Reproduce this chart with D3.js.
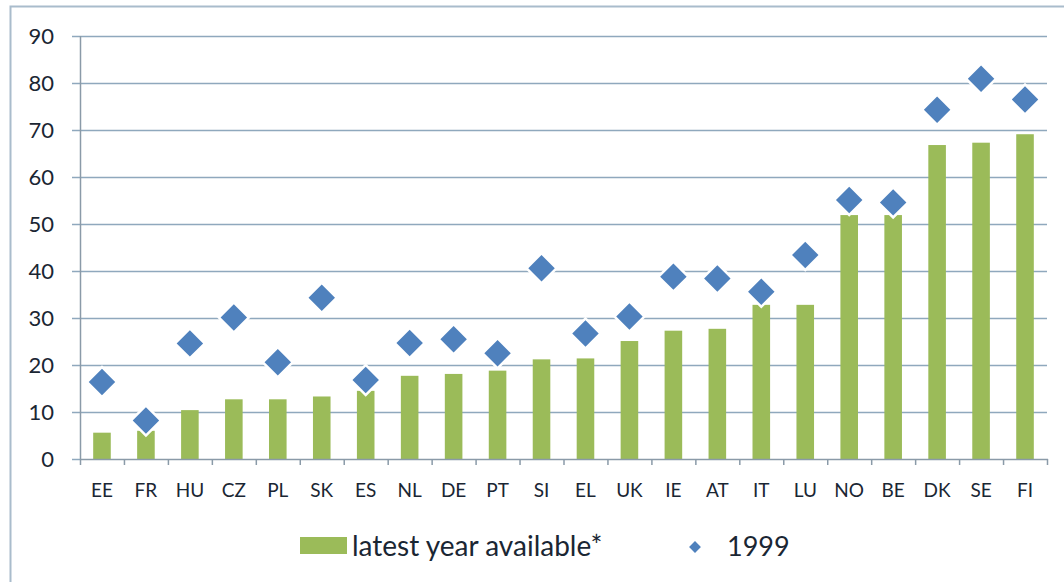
<!DOCTYPE html>
<html>
<head>
<meta charset="utf-8">
<script src="https://cdn.jsdelivr.net/npm/d3@7"></script>
<style>
  body { margin: 0; background: #fff; }
  text { font-family: Lato, "Open Sans", sans-serif; fill: #1a2633; }
</style>
</head>
<body>
<div id="chart"></div>
<script>
// chart data
var countries = ["EE", "FR", "HU", "CZ", "PL", "SK", "ES", "NL", "DE", "PT", "SI",
    "EL", "UK", "IE", "AT", "IT", "LU", "NO", "BE", "DK", "SE", "FI"];
var latestValues = [5.6, 6, 10.4, 12.7, 12.7, 13.3, 14.5, 17.7, 18.1, 18.8, 21.2,
    21.4, 25.1, 27.3, 27.7, 32.8, 32.8, 51.9, 51.9, 66.8, 67.3, 69.1];
var values1999 = [16.4, 8.2, 24.6, 30.1, 20.6, 34.3, 16.8, 24.7, 25.5, 22.5, 40.6,
    26.7, 30.3, 38.8, 38.4, 35.6, 43.4, 55.1, 54.6, 74.3, 80.9, 76.5];
var yTicks = [0, 10, 20, 30, 40, 50, 60, 70, 80, 90];
var legendLabels = ["latest year available*", "1999"];

function makeChart(divID) {
    var width = 1064, height = 582;
    var barColor = "#9bbb59", diamondColor = "#4f81bd";

    var svg = d3.select("#" + divID).append("svg")
        .attr("width", width)
        .attr("height", height);

    // outer frame (only left and top edges are in view)
    svg.append("path")
        .attr("d", "M10.5," + height + "V6.5H" + width)
        .attr("fill", "none")
        .attr("stroke", "#a9bccc")
        .attr("stroke-width", 2);

    var xScale = d3.scaleBand()
        .domain(countries)
        .range([80, 1047])
        .paddingInner(0.6)
        .paddingOuter(0.3);
    var bandStep = xScale.step();

    var yScale = d3.scaleLinear()
        .domain([0, 90])
        .range([459, 36]);

    // gridlines
    svg.append("g")
        .selectAll("line")
        .data(yTicks.filter(function (d) { return d > 0; }))
        .enter()
        .append("line")
        .attr("x1", 72)
        .attr("x2", 1047)
        .attr("y1", function (d) { return Math.round(yScale(d)) + 0.5; })
        .attr("y2", function (d) { return Math.round(yScale(d)) + 0.5; })
        .attr("stroke", "#8fa8bd")
        .attr("stroke-width", 1.5);

    // y labels
    svg.append("g")
        .selectAll("text")
        .data(yTicks)
        .enter()
        .append("text")
        .attr("x", 54)
        .attr("y", function (d) { return yScale(d); })
        .attr("dy", "0.36em")
        .attr("text-anchor", "end")
        .style("font-size", "22px")
        .text(function (d) { return d; });

    // bars
    svg.append("g")
        .selectAll("rect")
        .data(latestValues)
        .enter()
        .append("rect")
        .attr("x", function (d, i) { return xScale(countries[i]); })
        .attr("width", xScale.bandwidth())
        .attr("y", function (d) { return yScale(d); })
        .attr("height", function (d) { return yScale(0) - yScale(d); })
        .attr("fill", barColor);

    // axes lines
    svg.append("line")
        .attr("x1", 80.5).attr("x2", 80.5)
        .attr("y1", 36).attr("y2", 459)
        .attr("stroke", "#8a9aa8").attr("stroke-width", 1.5);
    svg.append("line")
        .attr("x1", 72).attr("x2", 80)
        .attr("y1", 459.5).attr("y2", 459.5)
        .attr("stroke", "#8fa8bd").attr("stroke-width", 1.5);
    svg.append("line")
        .attr("x1", 80).attr("x2", 1048)
        .attr("y1", 459.5).attr("y2", 459.5)
        .attr("stroke", "#8a9aa8").attr("stroke-width", 1.5);

    // x tick marks at band edges
    var edges = countries.map(function (c, i) { return 80 + i * bandStep; }).concat([1047]);
    svg.append("g")
        .selectAll("line")
        .data(edges)
        .enter()
        .append("line")
        .attr("x1", function (d) { return d + 0.5; })
        .attr("x2", function (d) { return d + 0.5; })
        .attr("y1", 459).attr("y2", 465)
        .attr("stroke", "#8a9aa8").attr("stroke-width", 1.5);

    // x labels
    svg.append("g")
        .selectAll("text")
        .data(countries)
        .enter()
        .append("text")
        .attr("x", function (d) { return xScale(d) + xScale.bandwidth() / 2; })
        .attr("y", 490)
        .attr("dy", "0.36em")
        .attr("text-anchor", "middle")
        .style("font-size", "19px")
        .text(function (d) { return d; });

    // 1999 diamonds
    var diamond = d3.symbol().type(d3.symbolSquare).size(450);
    svg.append("g")
        .selectAll("path")
        .data(values1999)
        .enter()
        .append("path")
        .attr("d", diamond)
        .attr("transform", function (d, i) {
            return "translate(" + (xScale(countries[i]) + xScale.bandwidth() / 2) + "," + yScale(d) + ") rotate(45)";
        })
        .attr("fill", diamondColor)
        .attr("stroke", "#fff")
        .attr("stroke-width", 2.5);

    // legend
    var legend = svg.append("g");
    legend.append("rect")
        .attr("x", 300).attr("y", 537)
        .attr("width", 47).attr("height", 17)
        .attr("fill", barColor);
    legend.append("text")
        .attr("x", 352).attr("y", 546)
        .attr("dy", "0.36em")
        .style("font-size", "28px")
        .text(legendLabels[0]);
    legend.append("path")
        .attr("d", d3.symbol().type(d3.symbolSquare).size(70))
        .attr("transform", "translate(695,547) rotate(45)")
        .attr("fill", diamondColor);
    legend.append("text")
        .attr("x", 727).attr("y", 546)
        .attr("dy", "0.36em")
        .style("font-size", "27px")
        .text(legendLabels[1]);
}

makeChart("chart");
</script>
</body>
</html>
